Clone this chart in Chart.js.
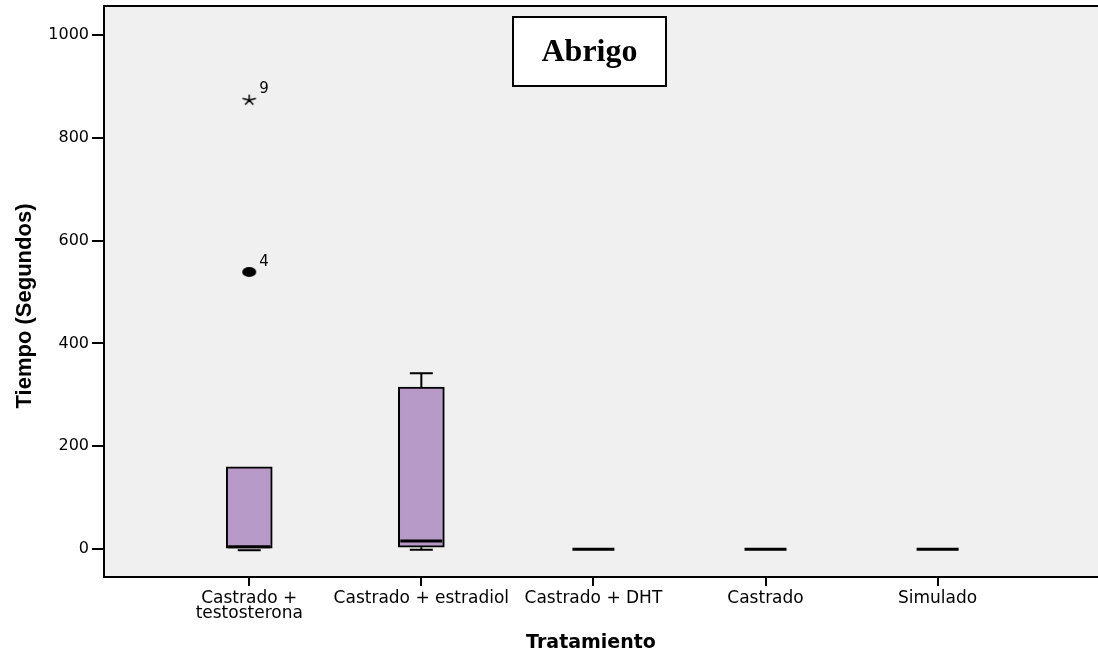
<!DOCTYPE html>
<html>
<head>
<meta charset="utf-8">
<title>Abrigo</title>
<script src="https://cdn.jsdelivr.net/npm/chart.js@4.4.1/dist/chart.umd.min.js"></script>
<style>
  html, body { margin: 0; padding: 0; background: #fff; }
  canvas { display: block; }
</style>
</head>
<body>
<canvas id="box-chart" width="1098" height="656"></canvas>
<script>
// five treatment groups, times in seconds
const treatments = [['Castrado +', 'testosterona'], 'Castrado + estradiol', 'Castrado + DHT', 'Castrado', 'Simulado'];
const whiskerLow = [0, 1, 0, 0, 0];
const quartile1 = [0, 4, 0, 0, 0];
const medians = [5, 16, 0, 0, 0];
const quartile3 = [160, 315, 0, 0, 0];
const whiskerHigh = [160, 342, 0, 0, 0];

// outliers (dot) and extremes (asterisk), labelled by case number
const outlierCases = ['4'];
const outlierGroups = [0];
const outlierValues = [539];
const extremeCases = ['9'];
const extremeGroups = [0];
const extremeValues = [873];

const yTicks = [0, 200, 400, 600, 800, 1000];

const BOX_FILL = '#b89ac9';
const SANS = 'DejaVu Sans';

function makeDot() {
  const c = document.createElement('canvas');
  c.width = 16; c.height = 12;
  const g = c.getContext('2d');
  g.fillStyle = '#000';
  g.beginPath();
  g.ellipse(8, 6, 7, 5, 0, 0, Math.PI * 2);
  g.fill();
  return c;
}

function makeAsterisk() {
  const c = document.createElement('canvas');
  c.width = 16; c.height = 14;
  const g = c.getContext('2d');
  g.strokeStyle = '#000';
  g.lineWidth = 1.5;
  g.beginPath();
  for (let k = 0; k < 5; k++) {
    const a = -Math.PI / 2 + k * 2 * Math.PI / 5;
    g.moveTo(8, 7);
    g.lineTo(8 + 7 * Math.cos(a), 7 + 5.5 * Math.sin(a));
  }
  g.stroke();
  return c;
}

const boxExtras = {
  id: 'boxExtras',
  beforeDraw(chart) {
    const { ctx, chartArea: a } = chart;
    ctx.save();
    ctx.fillStyle = '#f0f0f0';
    ctx.fillRect(a.left, a.top, a.right - a.left, a.bottom - a.top);
    ctx.restore();
  },
  afterDatasetsDraw(chart) {
    const { ctx, scales: { x, y } } = chart;
    ctx.save();
    ctx.strokeStyle = '#000';
    treatments.forEach((t, i) => {
      const cx = x.getPixelForValue(i);
      // whiskers and caps
      ctx.lineWidth = 2;
      ctx.beginPath();
      if (whiskerHigh[i] > quartile3[i]) {
        ctx.moveTo(cx, y.getPixelForValue(quartile3[i]));
        ctx.lineTo(cx, y.getPixelForValue(whiskerHigh[i]));
        ctx.moveTo(cx - 11.5, y.getPixelForValue(whiskerHigh[i]));
        ctx.lineTo(cx + 11.5, y.getPixelForValue(whiskerHigh[i]));
      }
      if (quartile3[i] > 0) {
        ctx.moveTo(cx, y.getPixelForValue(quartile1[i]));
        ctx.lineTo(cx, y.getPixelForValue(whiskerLow[i]));
        ctx.moveTo(cx - 11.5, y.getPixelForValue(whiskerLow[i]) + 1);
        ctx.lineTo(cx + 11.5, y.getPixelForValue(whiskerLow[i]) + 1);
      }
      ctx.stroke();
      // median
      ctx.lineWidth = 3;
      ctx.beginPath();
      ctx.moveTo(cx - 21, y.getPixelForValue(medians[i]));
      ctx.lineTo(cx + 21, y.getPixelForValue(medians[i]));
      ctx.stroke();
    });
    ctx.restore();
  },
  afterDraw(chart) {
    const { ctx, chartArea: a, scales: { x, y } } = chart;
    ctx.save();
    // top frame of the plot
    ctx.strokeStyle = '#000';
    ctx.lineWidth = 2;
    ctx.beginPath();
    ctx.moveTo(a.left, a.top);
    ctx.lineTo(a.right, a.top);
    ctx.stroke();

    // case numbers next to the outliers
    ctx.fillStyle = '#000';
    ctx.font = '15px "' + SANS + '"';
    ctx.textAlign = 'left';
    ctx.textBaseline = 'middle';
    outlierCases.forEach((c, k) => {
      ctx.fillText(c, x.getPixelForValue(outlierGroups[k]) + 10, y.getPixelForValue(outlierValues[k]) - 10);
    });
    extremeCases.forEach((c, k) => {
      ctx.fillText(c, x.getPixelForValue(extremeGroups[k]) + 10, y.getPixelForValue(extremeValues[k]) - 11);
    });

    // axis titles
    ctx.textAlign = 'center';
    ctx.font = 'bold 19px "' + SANS + '"';
    ctx.fillText('Tratamiento', a.left + 487, 643);
    ctx.save();
    ctx.translate(25, a.top + 300);
    ctx.rotate(-Math.PI / 2);
    ctx.font = 'bold 22px "Liberation Sans"';
    ctx.fillText('Tiempo (Segundos)', 0, 0);
    ctx.restore();

    // panel label
    const bx = a.left + 409, by = a.top + 11, bw = 153, bh = 69;
    ctx.fillStyle = '#fff';
    ctx.fillRect(bx, by, bw, bh);
    ctx.lineWidth = 2;
    ctx.strokeRect(bx, by, bw, bh);
    ctx.fillStyle = '#000';
    ctx.font = 'bold 32px "Liberation Serif"';
    ctx.fillText('Abrigo', bx + bw / 2, by + bh / 2 + 1);
    ctx.restore();
  }
};

new Chart(document.querySelector('#box-chart').getContext('2d'), {
  type: 'bar',
  data: {
    datasets: [
      {
        type: 'bar',
        label: 'Caja',
        data: treatments.map((t, i) => ({ x: i, y: [quartile1[i], quartile3[i]] })),
        backgroundColor: BOX_FILL,
        borderColor: '#000',
        borderWidth: 2,
        borderSkipped: false,
        barThickness: 46
      },
      {
        type: 'scatter',
        label: 'Atípicos',
        data: outlierValues.map((v, k) => ({ x: outlierGroups[k], y: v })),
        pointStyle: makeDot(),
        pointRadius: 7
      },
      {
        type: 'scatter',
        label: 'Extremos',
        data: extremeValues.map((v, k) => ({ x: extremeGroups[k], y: v })),
        pointStyle: makeAsterisk(),
        pointRadius: 7
      }
    ]
  },
  options: {
    responsive: false,
    animation: false,
    devicePixelRatio: 1,
    layout: { autoPadding: false, padding: { left: 0, right: 0, top: 6, bottom: 0 } },
    plugins: {
      legend: { display: false },
      tooltip: { enabled: false }
    },
    scales: {
      x: {
        type: 'linear',
        min: -0.844,
        max: 4.932,
        offset: false,
        afterBuildTicks: s => { s.ticks = treatments.map((t, i) => ({ value: i })); },
        afterFit: s => {
          s.height = 79;
          s.paddingLeft = 0;
          s.paddingRight = 0;
        },
        ticks: {
          autoSkip: false,
          maxRotation: 0,
          color: '#000',
          padding: 5,
          font: { family: SANS, size: 17, lineHeight: 0.9 },
          callback: v => treatments[v]
        },
        grid: { offset: false, drawOnChartArea: false, drawTicks: true, tickLength: 9, color: '#000', lineWidth: 2 },
        border: { display: true, color: '#000', width: 2 }
      },
      y: {
        min: -54,
        max: 1056,
        afterBuildTicks: s => { s.ticks = yTicks.map(v => ({ value: v })); },
        afterFit: s => {
          s.width = 104;
          s.paddingTop = 0;
          s.paddingBottom = 0;
        },
        ticks: { color: '#000', padding: 3, font: { family: SANS, size: 16 }, callback: v => String(v) },
        grid: { drawOnChartArea: false, drawTicks: true, tickLength: 12, color: '#000', lineWidth: 2 },
        border: { display: true, color: '#000', width: 2 }
      }
    }
  },
  plugins: [boxExtras]
});
</script>
</body>
</html>
